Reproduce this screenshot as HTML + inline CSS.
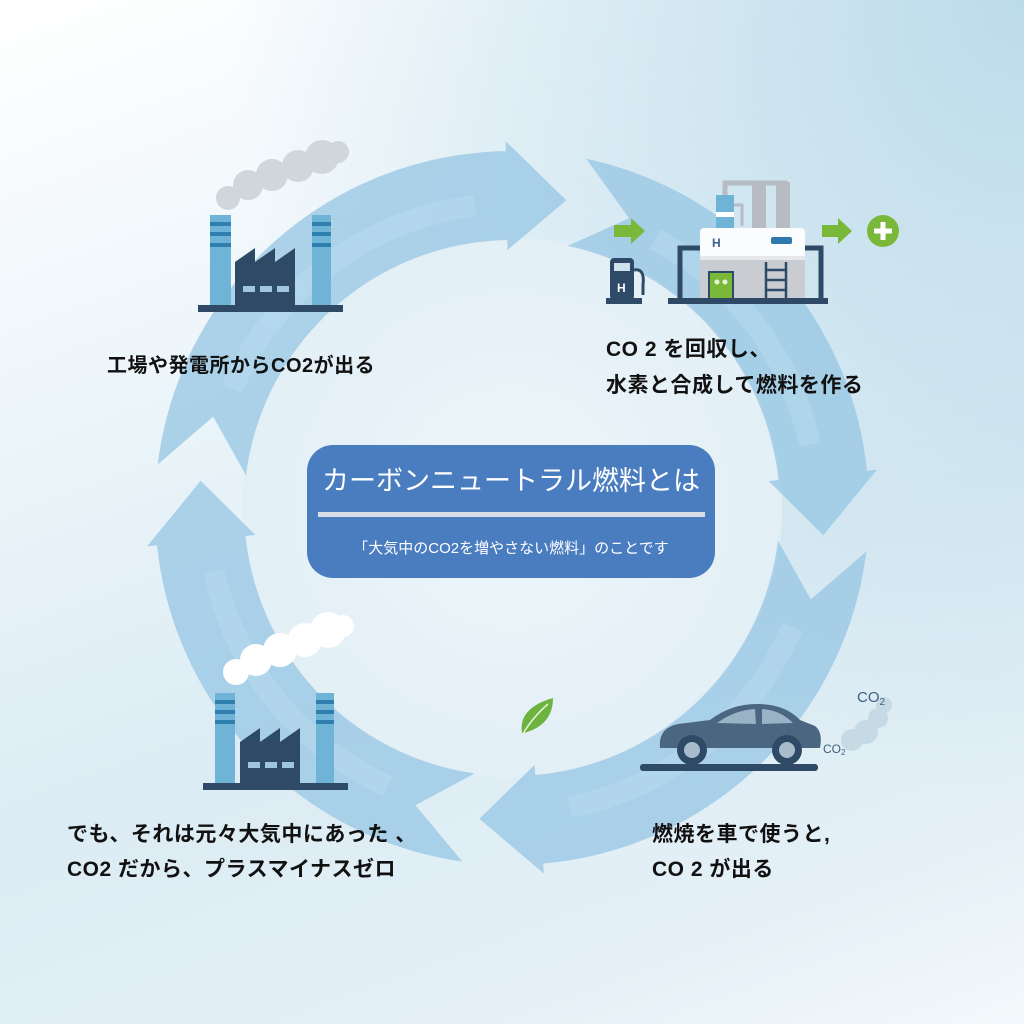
<!DOCTYPE html>
<html><head><meta charset="utf-8">
<style>
html,body{margin:0;padding:0;}
body{width:1024px;height:1024px;overflow:hidden;position:relative;
background:linear-gradient(160deg,#ffffff 0%,#eaf4f9 35%,#dcecf4 60%,#e4f0f6 85%,#f3f8fb 100%);
font-family:"Liberation Sans","Noto Sans CJK JP",sans-serif;}
.bg2{position:absolute;inset:0;background:radial-gradient(ellipse at 100% 0%,#bcdbea 0%,rgba(200,225,238,0) 55%);}
svg{position:absolute;left:0;top:0;}
.t{position:absolute;color:#111;font-size:20px;white-space:nowrap;letter-spacing:0.5px;font-weight:bold;}
.box{position:absolute;left:307px;top:445px;width:408px;height:133px;border-radius:26px;background:#4a7dc0;}
.title{position:absolute;left:0;width:408px;top:14px;text-align:center;color:#fff;font-size:27px;}
.line{position:absolute;left:11px;width:387px;top:67px;height:5px;background:#d8dde6;}
.sub{position:absolute;left:0;width:408px;top:92px;text-align:center;color:#fff;font-size:15px;}
</style></head><body>
<div class="bg2"></div>
<svg width="1024" height="1024" viewBox="0 0 1024 1024">
<defs>
<radialGradient id="inner" cx="512" cy="508" r="280" gradientUnits="userSpaceOnUse">
<stop offset="0" stop-color="#eef6fa"/><stop offset="1" stop-color="#e2eff6"/></radialGradient>
</defs>
<circle cx="512" cy="508" r="270" fill="url(#inner)"/>
<g id="ring"></g>
<g fill="#cfd6dc">
<circle cx="228" cy="198" r="12"/><circle cx="248" cy="185" r="15"/><circle cx="272" cy="175" r="16"/><circle cx="298" cy="166" r="16"/><circle cx="322" cy="157" r="17"/><circle cx="338" cy="152" r="11"/>
</g>
<rect x="210" y="215" width="21" height="92" fill="#6fb4d6"/>
<rect x="210" y="222" width="21" height="4" fill="#2e7fae"/><rect x="210" y="232" width="21" height="4" fill="#2e7fae"/><rect x="210" y="243" width="21" height="4" fill="#2e7fae"/>
<rect x="312" y="215" width="19" height="92" fill="#6fb4d6"/>
<rect x="312" y="222" width="19" height="4" fill="#2e7fae"/><rect x="312" y="232" width="19" height="4" fill="#2e7fae"/><rect x="312" y="243" width="19" height="4" fill="#2e7fae"/>
<path d="M235 306 V262 L255 248 V262 L275 248 V262 L295 248 V306 Z" fill="#2f4a66"/>
<rect x="243" y="286" width="12" height="6" fill="#9fc6dc"/><rect x="260" y="286" width="12" height="6" fill="#9fc6dc"/><rect x="277" y="286" width="12" height="6" fill="#9fc6dc"/>
<rect x="198" y="305" width="145" height="7" fill="#2f4a66"/>
<path d="M725 200 V183 H760 V230 M760 183 H785 V230" stroke="#b7bcc2" stroke-width="5" fill="none"/>
<rect x="752" y="182" width="14" height="50" fill="#b7bcc2"/><rect x="776" y="182" width="14" height="50" fill="#b7bcc2"/>
<rect x="716" y="195" width="18" height="18" fill="#6fb4d6"/><rect x="716" y="212" width="18" height="5" fill="#fff"/><rect x="716" y="217" width="18" height="12" fill="#6fb4d6"/>
<path d="M734 205 H742 V226" stroke="#b7bcc2" stroke-width="3" fill="none"/>
<rect x="700" y="228" width="105" height="30" rx="4" fill="#fbfcfd"/>
<rect x="700" y="256" width="105" height="44" fill="#c9cdd2"/>
<rect x="700" y="256" width="105" height="4" fill="#e6e8ea"/>
<text x="712" y="247" font-size="12" font-weight="bold" fill="#3a6088" font-family="Liberation Sans">H</text>
<rect x="771" y="237" width="21" height="7" rx="2" fill="#2f79ae"/>
<rect x="709" y="272" width="24" height="28" fill="#7ab83a" stroke="#2f4a66" stroke-width="2"/>
<circle cx="717" cy="282" r="2.5" fill="#e8f3dc"/><circle cx="725" cy="282" r="2.5" fill="#e8f3dc"/>
<path d="M766 262 V300 M786 262 V300 M766 270 H786 M766 280 H786 M766 290 H786" stroke="#2f4a66" stroke-width="2.5" fill="none"/>
<path d="M680 300 V248 H700 M805 248 H821 V300" stroke="#2f4a66" stroke-width="5" fill="none"/>
<rect x="668" y="298" width="160" height="6" fill="#2f4a66"/>
<rect x="610" y="258" width="24" height="42" rx="4" fill="#2f4a66"/><rect x="614" y="263" width="16" height="8" fill="#cfe2ee"/>
<text x="617" y="292" font-size="12" font-weight="bold" fill="#fff" font-family="Liberation Sans">H</text>
<path d="M634 270 Q645 268 643 285 L643 295" stroke="#2f4a66" stroke-width="3" fill="none"/>
<rect x="606" y="298" width="36" height="6" fill="#2f4a66"/>
<path d="M614 225 H631 V218 L645 231 L631 244 V237 H614 Z" fill="#7ab83a"/>
<path d="M822 225 H838 V218 L852 231 L838 244 V237 H822 Z" fill="#7ab83a"/>
<circle cx="883" cy="231" r="16" fill="#7ab83a"/>
<path d="M883 222 V240 M874 231 H892" stroke="#fff" stroke-width="5"/>
<g fill="#ffffff">
<circle cx="236" cy="672" r="13"/><circle cx="256" cy="660" r="16"/><circle cx="280" cy="650" r="17"/><circle cx="305" cy="640" r="17"/><circle cx="328" cy="630" r="18"/><circle cx="343" cy="626" r="11"/>
</g>
<rect x="215" y="693" width="20" height="92" fill="#6fb4d6"/>
<rect x="215" y="700" width="20" height="4" fill="#2e7fae"/><rect x="215" y="710" width="20" height="4" fill="#2e7fae"/><rect x="215" y="720" width="20" height="4" fill="#2e7fae"/>
<rect x="316" y="693" width="18" height="92" fill="#6fb4d6"/>
<rect x="316" y="700" width="18" height="4" fill="#2e7fae"/><rect x="316" y="710" width="18" height="4" fill="#2e7fae"/><rect x="316" y="720" width="18" height="4" fill="#2e7fae"/>
<path d="M240 784 V742 L260 728 V742 L280 728 V742 L300 728 V784 Z" fill="#2f4a66"/>
<rect x="248" y="762" width="12" height="6" fill="#9fc6dc"/><rect x="265" y="762" width="12" height="6" fill="#9fc6dc"/><rect x="282" y="762" width="12" height="6" fill="#9fc6dc"/>
<rect x="203" y="783" width="145" height="7" fill="#2f4a66"/>
<path d="M522 733 Q518 708 553 698 Q553 725 524 733 Z" fill="#6db33f"/>
<path d="M523 734 Q532 718 548 704" stroke="#e6f2da" stroke-width="1.5" fill="none"/>
<g fill="#c4d8e4" opacity="0.9"><circle cx="852" cy="740" r="11"/><circle cx="866" cy="732" r="12"/><circle cx="878" cy="718" r="10"/><circle cx="884" cy="705" r="8"/></g>
<text x="857" y="702" font-size="15" fill="#3e5f7e" font-family="Liberation Sans">CO<tspan font-size="10" dy="3">2</tspan></text>
<text x="823" y="753" font-size="12" fill="#3e5f7e" font-family="Liberation Sans">CO<tspan font-size="8" dy="2">2</tspan></text>
<path d="M660 748 Q658 728 678 724 L710 720 Q732 703 760 704 Q786 705 800 720 L815 726 Q823 732 820 748 Z" fill="#4a6680"/>
<path d="M717 723 Q735 710 755 709 L756 724 Z M762 709 Q780 710 793 723 L762 724 Z" fill="#9ab2c6"/>
<circle cx="692" cy="750" r="15" fill="#2f4a66"/><circle cx="692" cy="750" r="8" fill="#a9bccb"/>
<circle cx="787" cy="750" r="15" fill="#2f4a66"/><circle cx="787" cy="750" r="8" fill="#a9bccb"/>
<rect x="640" y="764" width="178" height="7" rx="3" fill="#2f4a66"/>
</svg>
<div class="t" style="left:107px;top:349px;">工場や発電所からCO2が出る</div>
<div class="t" style="left:606px;top:333px;font-size:21px;">CO 2 を回収し、</div>
<div class="t" style="left:606px;top:369px;font-size:21px;">水素と合成して燃料を作る</div>
<div class="t" style="left:67px;top:818px;font-size:21px;">でも、それは元々大気中にあった 、</div>
<div class="t" style="left:67px;top:853px;font-size:21px;">CO2 だから、プラスマイナスゼロ</div>
<div class="t" style="left:652px;top:818px;font-size:21px;">燃焼を車で使うと,</div>
<div class="t" style="left:652px;top:853px;font-size:21px;">CO 2  が出る</div>
<div class="box"><div class="title">カーボンニュートラル燃料とは</div><div class="line"></div><div class="sub">「大気中のCO2を増やさない燃料」のことです</div></div>
<script>
(function(){
var cx=512,cy=508,Ri=268,Ro=357,Rm=(Ri+Ro)/2;
function P(r,a){a=a*Math.PI/180;return (cx+r*Math.cos(a)).toFixed(1)+","+(cy+r*Math.sin(a)).toFixed(1);}
var tips=[-80,5,96,185],g=document.getElementById('ring'),h='';
for(var i=0;i<4;i++){
 var tip=tips[i],prev=tips[(i+3)%4];if(prev>tip)prev-=360;
 var s=prev+2,e=tip-11,d=[];
 d.push(P(Ro,s));
 for(var a=s;a<=e;a+=2)d.push(P(Ro,a));
 d.push(P(Ro,e));d.push(P(Ro+10,e));d.push(P(Rm,tip));d.push(P(Ri-10,e));d.push(P(Ri,e));
 for(var a=e;a>=s;a-=2)d.push(P(Ri,a));
 d.push(P(Ri,s));d.push(P(Rm,s+10));
 h+='<polygon points="'+d.join(' ')+'" fill="#95c6e3" opacity="0.75"/>';
 var q=[];for(var a=s+16;a<=e-6;a+=2)q.push(P(Rm-8,a));
 h+='<polyline points="'+q.join(' ')+'" fill="none" stroke="#b9dcef" stroke-width="22" opacity="0.5"/>';
}
g.innerHTML=h;
})();
</script>
</body></html>
